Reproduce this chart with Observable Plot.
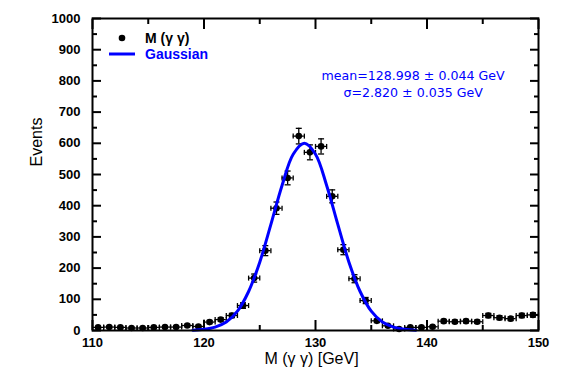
<!DOCTYPE html>
<html><head><meta charset="utf-8">
<script src="https://cdn.jsdelivr.net/npm/d3@7"></script>
<script src="https://cdn.jsdelivr.net/npm/@observablehq/plot@0.6"></script>
<style>
html,body{margin:0;padding:0;background:#fff;}
#wrap{position:relative;width:566px;height:375px;background:#fff;}
#legend{position:absolute;left:0;top:0;width:566px;height:375px;pointer-events:none;}
</style></head><body><div id="wrap"></div>
<script>
// Histogram bins (centres, GeV) and counts
const massBins = [110.5,111.5,112.5,113.5,114.5,115.5,116.5,117.5,118.5,119.5,
  120.5,121.5,122.5,123.5,124.5,125.5,126.5,127.5,128.5,129.5,
  130.5,131.5,132.5,133.5,134.5,135.5,136.5,137.5,138.5,139.5,
  140.5,141.5,142.5,143.5,144.5,145.5,146.5,147.5,148.5,149.5];
const events = [10,11,10,8,8,10,11,11,16,13,
  27,35,48,80,168,256,392,489,623,571,
  590,430,259,166,96,31,15,5,10,10,
  12,30,28,30,28,48,41,38,48,50];
const binHalfWidth = 0.5;

// Gaussian fit curve
const fitMass = [119,120,121,122,123,124,125,126,127,128,129,130,131,132,133,134,135,136,137,138,139];
const fitEvents = [1,4,11,27,62,125,219,340,465,565,600,565,465,340,219,125,62,27,11,4,1];

const xMajorTicks = [110,120,130,140,150];
const xMinorTicks = [115,125,135,145];
const yMajorTicks = [0,100,200,300,400,500,600,700,800,900,1000];
const yMinorTicks = [50,150,250,350,450,550,650,750,850,950];

const xTitle = "M (γ γ) [GeV]";
const yTitle = "Events";
const legendLabels = ["M (γ γ)", "Gaussian"];
const fitText = ["mean=128.998 ± 0.044 GeV", "σ=2.820 ± 0.035 GeV"];

const hist = massBins.map((m, i) => ({m, n: events[i], e: Math.sqrt(events[i])}));
const fit = fitMass.map((m, i) => ({m, n: fitEvents[i]}));

const capH = {draw(ctx, size) { const r = Math.sqrt(size / Math.PI); ctx.moveTo(-r, 0); ctx.lineTo(r, 0); }};
const capV = {draw(ctx, size) { const r = Math.sqrt(size / Math.PI); ctx.moveTo(0, -r); ctx.lineTo(0, r); }};

const blue = "#0000ff";
const tickFont = {fontSize: 13, fontWeight: "bold", fill: "#000", tickFormat: d3.format("d")};

const chart = Plot.plot({
  width: 566, height: 375,
  marginLeft: 92, marginRight: 28, marginTop: 18, marginBottom: 45,
  style: {fontFamily: "'Liberation Sans', Arial, sans-serif", background: "#fff", color: "#000"},
  x: {domain: [110, 150]},
  y: {domain: [0, 1000]},
  marks: [
    // tick marks on all four sides (inward)
    Plot.axisX(xMajorTicks, {anchor: "bottom", tickSize: -10, tickFormat: () => "", strokeWidth: 2, label: null}),
    Plot.axisX(xMinorTicks, {anchor: "bottom", tickSize: -5, tickFormat: () => "", strokeWidth: 2, label: null}),
    Plot.axisX(xMajorTicks, {anchor: "top", tickSize: -10, tickFormat: () => "", strokeWidth: 2, label: null}),
    Plot.axisX(xMinorTicks, {anchor: "top", tickSize: -5, tickFormat: () => "", strokeWidth: 2, label: null}),
    Plot.axisY(yMajorTicks, {anchor: "left", tickSize: -9, tickFormat: () => "", strokeWidth: 2, label: null}),
    Plot.axisY(yMinorTicks, {anchor: "left", tickSize: -5, tickFormat: () => "", strokeWidth: 2, label: null}),
    Plot.axisY(yMajorTicks, {anchor: "right", tickSize: -9, tickFormat: () => "", strokeWidth: 2, label: null}),
    Plot.axisY(yMinorTicks, {anchor: "right", tickSize: -5, tickFormat: () => "", strokeWidth: 2, label: null}),
    // tick labels
    Plot.axisX(xMajorTicks, {anchor: "bottom", tickSize: 0, tickPadding: 7, label: null, ...tickFont}),
    Plot.axisY(yMajorTicks, {anchor: "left", tickSize: 0, tickPadding: 12, label: null, ...tickFont}),
    // titles
    Plot.text([xTitle], {frameAnchor: "bottom", dx: -4, dy: 28, fontSize: 16, fill: "#000", lineAnchor: "middle"}),
    Plot.text([yTitle], {frameAnchor: "left", dx: -56, dy: -8, rotate: -90, fontSize: 16, fill: "#000", lineAnchor: "middle"}),
    // histogram error bars
    Plot.ruleY(hist, {y: "n", x1: d => d.m - binHalfWidth, x2: d => d.m + binHalfWidth, stroke: "#000", strokeWidth: 1.3}),
    Plot.ruleX(hist, {x: "m", y1: d => d.n - d.e, y2: d => d.n + d.e, stroke: "#000", strokeWidth: 1.3}),
    Plot.dot(hist, {x: "m", y: d => d.n + d.e, symbol: capH, r: 3, stroke: "#000", strokeWidth: 1.3, fill: "none"}),
    Plot.dot(hist, {x: "m", y: d => d.n - d.e, symbol: capH, r: 3, stroke: "#000", strokeWidth: 1.3, fill: "none"}),
    Plot.dot(hist, {x: d => d.m - binHalfWidth, y: "n", symbol: capV, r: 2.5, stroke: "#000", strokeWidth: 1.3, fill: "none"}),
    Plot.dot(hist, {x: d => d.m + binHalfWidth, y: "n", symbol: capV, r: 2.5, stroke: "#000", strokeWidth: 1.3, fill: "none"}),
    Plot.dot(hist, {x: "m", y: "n", r: 3.3, fill: "#000", stroke: null}),
    // fit
    Plot.line(fit, {x: "m", y: "n", curve: "catmull-rom", stroke: blue, strokeWidth: 3}),
    // fit parameters
    Plot.text([fitText[0]], {frameAnchor: "top-left", textAnchor: "start", lineAnchor: "middle", dx: 229, dy: 57,
      fill: blue, fontSize: 12.6, fontFamily: "'DejaVu Sans', sans-serif"}),
    Plot.text([fitText[1]], {frameAnchor: "top-left", textAnchor: "start", lineAnchor: "middle", dx: 251, dy: 74,
      fill: blue, fontSize: 12.6, fontFamily: "'DejaVu Sans', sans-serif"}),
    Plot.frame({stroke: "#000", strokeWidth: 2})
  ]
});
const wrap = document.getElementById("wrap");
wrap.appendChild(chart);

// legend overlay
const leg = d3.select(wrap).append("svg").attr("id", "legend").attr("width", 566).attr("height", 375)
  .style("font-family", "'Liberation Sans', Arial, sans-serif");
leg.append("circle").attr("cx", 122).attr("cy", 38).attr("r", 3.3).attr("fill", "#000");
leg.append("text").attr("x", 145).attr("y", 38).attr("dy", "0.35em").attr("font-size", 14).attr("font-weight", "bold")
  .attr("fill", "#000").text(legendLabels[0]);
leg.append("line").attr("x1", 109).attr("x2", 135).attr("y1", 54).attr("y2", 54).attr("stroke", blue).attr("stroke-width", 3);
leg.append("text").attr("x", 145).attr("y", 54).attr("dy", "0.35em").attr("font-size", 14).attr("font-weight", "bold")
  .attr("fill", blue).text(legendLabels[1]);
</script>
</body></html>
